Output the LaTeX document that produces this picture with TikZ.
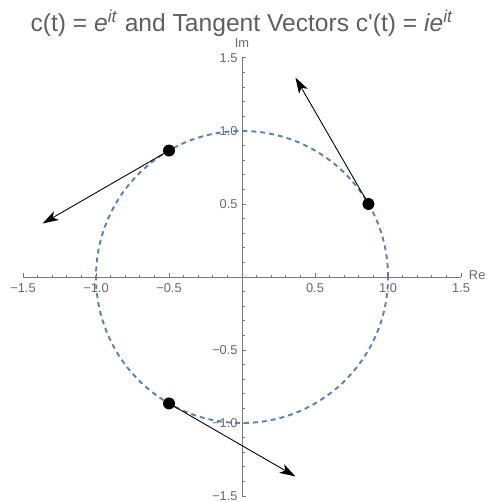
\documentclass[tikz,border=0pt]{standalone}
\usepackage{fontspec}
\setmainfont{Liberation Sans}
\usetikzlibrary{arrows.meta}
\definecolor{curveblue}{RGB}{94,129,181}
\definecolor{axgray}{RGB}{120,120,120}
\definecolor{labgray}{RGB}{105,105,105}
\definecolor{titlegray}{RGB}{95,95,95}
\begin{document}
\begin{tikzpicture}[x=2.92cm,y=2.92cm,
  axisline/.style={draw=axgray, line width=0.55pt},
  ticklab/.style={font=\fontsize{7.3}{8}\selectfont, text=labgray, inner sep=0pt},
  dot/.style={circle, fill=black, inner sep=0pt, minimum size=6.8pt},
  vec/.style={draw=black, line width=0.5pt, -{Stealth[length=9pt,width=5.6pt,inset=2.3pt]}},
  circ/.style={draw=curveblue, line width=1.1pt, dash pattern=on 2.8pt off 2.3pt}]
\useasboundingbox (-1.6575,-1.541) rectangle (1.671,1.897);

% title
\node[anchor=base, inner sep=0pt, font=\fontsize{14}{16}\selectfont, text=titlegray] (title) at (0,1.681)
  {c(t) = \textit{e}\textsuperscript{\textit{it}} and Tangent Vectors c\textquotesingle(t) = \textit{ie}\textsuperscript{\textit{it}}};

% axes
\draw[axisline] (-1.5,0) -- (1.5,0);
\draw[axisline] (0,-1.5) -- (0,1.5);
\foreach \v in {-1.5,-1,-0.5,0.5,1,1.5}{
  \draw[axisline] (\v,0) -- ++(0,0.028);
  \draw[axisline] (0,\v) -- ++(0.028,0);
}
\foreach \k in {-14,-13,-12,-11,-9,-8,-7,-6,-4,-3,-2,-1,1,2,3,4,6,7,8,9,11,12,13,14}{
  \draw[axisline] (\k/10,0) -- ++(0,0.017);
  \draw[axisline] (0,\k/10) -- ++(0.017,0);
}
\foreach \v/\t in {-1.5/−1.5,-1/−1.0,-0.5/−0.5,0.5/0.5,1/1.0,1.5/1.5}{
  \node[ticklab, anchor=north] at (\v,-0.04) {\t};
  \node[ticklab, anchor=east] at (-0.028,\v) {\t};
}
\node[ticklab, anchor=west] (re) at (1.552,0.01) {Re};
\node[ticklab, anchor=south] (im) at (0,1.572) {Im};

% circle
\draw[circ] (0,0) circle (1);

% points and tangent vectors
\node[dot] (p1) at (0.8660,0.5) {};
\node[dot] (p2) at (-0.5,0.8660) {};
\node[dot] (p3) at (-0.5,-0.8660) {};
\coordinate (e1) at (0.3660,1.3660);
\coordinate (e2) at (-1.3660,0.3660);
\coordinate (e3) at (0.3660,-1.3660);
\draw[vec] (p1.center) -- (e1);
\draw[vec] (p2.center) -- (e2);
\draw[vec] (p3.center) -- (e3);
\end{tikzpicture}
\end{document}
